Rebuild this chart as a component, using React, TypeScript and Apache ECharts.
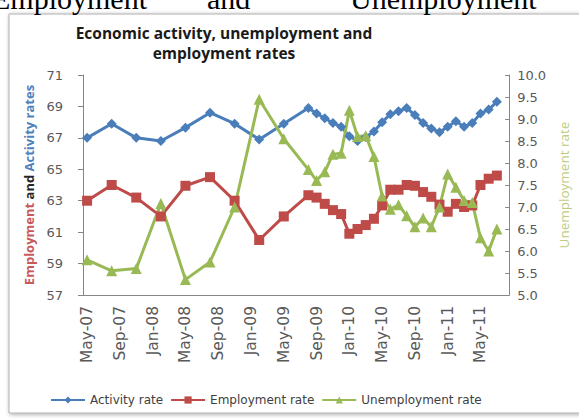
import React, { useEffect, useRef } from "react";
import * as echarts from "echarts";

const months = [
  "May-07", "Jun-07", "Jul-07", "Aug-07", "Sep-07", "Oct-07", "Nov-07", "Dec-07",
  "Jan-08", "Feb-08", "Mar-08", "Apr-08", "May-08", "Jun-08", "Jul-08", "Aug-08",
  "Sep-08", "Oct-08", "Nov-08", "Dec-08", "Jan-09", "Feb-09", "Mar-09", "Apr-09",
  "May-09", "Jun-09", "Jul-09", "Aug-09", "Sep-09", "Oct-09", "Nov-09", "Dec-09",
  "Jan-10", "Feb-10", "Mar-10", "Apr-10", "May-10", "Jun-10", "Jul-10", "Aug-10",
  "Sep-10", "Oct-10", "Nov-10", "Dec-10", "Jan-11", "Feb-11", "Mar-11", "Apr-11",
  "May-11", "Jun-11", "Jul-11", "Aug-11",
];

const n = null;

const activityRate = [
  67.0, n, n, 67.9, n, n, 67.0, n, n, 66.8, n, n, 67.65, n, n, 68.6, n, n, 67.9, n, n,
  66.9, n, n, 67.9, n, n, 68.9, 68.55, 68.25, 67.95, 67.7, 67.1, 66.8, 67.05, 67.4,
  68.0, 68.5, 68.7, 68.9, 68.45, 67.95, 67.6, 67.35, 67.7, 68.05, 67.7, 67.95, 68.55,
  68.8, 69.3, n,
];

const employmentRate = [
  63.0, n, n, 64.0, n, n, 63.2, n, n, 62.0, n, n, 63.95, n, n, 64.5, n, n, 63.0, n, n,
  60.5, n, n, 62.0, n, n, 63.35, 63.2, 62.8, 62.4, 62.15, 60.9, 61.2, 61.45, 61.85,
  62.7, 63.7, 63.7, 64.0, 63.95, 63.55, 63.25, 62.75, 62.3, 62.8, 62.6, 62.7, 64.0,
  64.4, 64.6, n,
];

const unemploymentRate = [
  5.8, n, n, 5.55, n, n, 5.6, n, n, 7.08, n, n, 5.35, n, n, 5.75, n, n, 7.0, n, n,
  9.45, n, n, 8.55, n, n, 7.85, 7.6, 7.8, 8.2, 8.22, 9.2, 8.6, 8.62, 8.15,
  7.25, 6.95, 7.05, 6.8, 6.55, 6.75, 6.55, 7.0, 7.75, 7.45, 7.15, 7.1, 6.3,
  6.0, 6.5, n,
];

const leftTicks = { min: 57, max: 71, interval: 2 };
const rightTicks = { min: 5, max: 10, interval: 0.5 };

const BLUE = "#4a7ebb";
const RED = "#be4b48";
const GREEN = "#98b954";
const AXIS = "#868686";
const LABEL = "#595959";
const SANS = "DejaVu Sans";

export default function App() {
  const ref = useRef<HTMLDivElement>(null);

  useEffect(() => {
    if (!ref.current) return;
    const chart = echarts.init(ref.current, undefined, { renderer: "svg" });
    const serif = { fontFamily: "Liberation Serif", fontSize: 30, fill: "#000", verticalAlign: "bottom" };
    chart.setOption({
      animation: false,
      backgroundColor: "#ffffff",
      graphic: [
        { type: "text", x: -8, y: 13, z: 1, style: { ...serif, text: "Employment" } },
        { type: "text", x: 207, y: 13, z: 1, style: { ...serif, text: "and" } },
        { type: "text", x: 350, y: 13, z: 1, style: { ...serif, text: "Unemployment" } },
        {
          type: "rect",
          z: 0,
          shape: { x: 9, y: 14, width: 600, height: 399 },
          style: {
            fill: "#ffffff",
            stroke: "#b0b0b0",
            lineWidth: 1,
            shadowBlur: 4,
            shadowColor: "rgba(0,0,0,0.35)",
            shadowOffsetX: 1,
            shadowOffsetY: 1,
          },
        },
        {
          type: "text",
          x: 224,
          y: 23,
          z: 5,
          style: {
            text: "Economic activity, unemployment and\nemployment rates",
            fontFamily: "Open Sans",
            fontWeight: "bold",
            fontSize: 15.5,
            lineHeight: 20,
            fill: "#1a1a1a",
            align: "center",
            verticalAlign: "top",
          },
        },
      ],
      grid: { left: 83, right: 64, top: 75, bottom: 124, containLabel: false },
      legend: {
        left: 45,
        top: 389,
        itemWidth: 34,
        itemHeight: 9,
        itemGap: 7,
        textStyle: { fontFamily: SANS, fontSize: 12, color: "#404040" },
        data: ["Activity rate", "Employment rate", "Unemployment rate"],
      },
      xAxis: {
        type: "category",
        data: months,
        boundaryGap: true,
        axisLine: { lineStyle: { color: AXIS } },
        axisTick: { interval: 3, length: 5, lineStyle: { color: AXIS } },
        axisLabel: {
          interval: 3,
          rotate: 90,
          margin: 11,
          fontFamily: SANS,
          fontSize: 15.5,
          color: LABEL,
        },
        splitLine: { show: false },
      },
      yAxis: [
        {
          type: "value",
          min: leftTicks.min,
          max: leftTicks.max,
          interval: leftTicks.interval,
          position: "left",
          name: "{r|Employment} {k|and} {b|Activity rates}",
          nameLocation: "middle",
          nameRotate: 90,
          nameGap: 47,
          nameTextStyle: {
            fontFamily: "Open Sans",
            fontWeight: "bold",
            fontSize: 13,
            rich: {
              r: { color: "#c9585a", fontFamily: "Open Sans", fontWeight: "bold", fontSize: 13 },
              k: { color: "#262626", fontFamily: "Open Sans", fontWeight: "bold", fontSize: 13 },
              b: { color: "#4f81bd", fontFamily: "Open Sans", fontWeight: "bold", fontSize: 13 },
            },
          },
          axisLine: { show: true, lineStyle: { color: AXIS } },
          axisTick: { show: true, length: 5, lineStyle: { color: AXIS } },
          axisLabel: { margin: 20, fontFamily: SANS, fontSize: 13, color: LABEL },
          splitLine: { show: false },
        },
        {
          type: "value",
          min: rightTicks.min,
          max: rightTicks.max,
          interval: rightTicks.interval,
          position: "right",
          name: "Unemployment rate",
          nameLocation: "middle",
          nameRotate: 90,
          nameGap: 47,
          nameTextStyle: { fontFamily: "Open Sans", fontSize: 13.5, color: "#bfcc80" },
          axisLine: { show: true, lineStyle: { color: AXIS } },
          axisTick: { show: true, inside: true, length: 4, lineStyle: { color: AXIS } },
          axisLabel: {
            margin: 8,
            fontFamily: SANS,
            fontSize: 13,
            color: LABEL,
            formatter: (v: number) => v.toFixed(1),
          },
          splitLine: { show: false },
        },
      ],
      series: [
        {
          name: "Activity rate",
          type: "line",
          yAxisIndex: 0,
          data: activityRate,
          connectNulls: true,
          showAllSymbol: true,
          symbol: "diamond",
          symbolSize: 10,
          lineStyle: { width: 3, color: BLUE },
          itemStyle: { color: BLUE },
        },
        {
          name: "Employment rate",
          type: "line",
          yAxisIndex: 0,
          data: employmentRate,
          connectNulls: true,
          showAllSymbol: true,
          symbol: "rect",
          symbolSize: 10,
          lineStyle: { width: 3, color: RED },
          itemStyle: { color: RED },
        },
        {
          name: "Unemployment rate",
          type: "line",
          yAxisIndex: 1,
          data: unemploymentRate,
          connectNulls: true,
          showAllSymbol: true,
          symbol: "triangle",
          symbolSize: 11,
          lineStyle: { width: 3, color: GREEN },
          itemStyle: { color: GREEN },
        },
      ],
    });
    return () => chart.dispose();
  }, []);

  return (
    <div
      ref={ref}
      style={{ position: "fixed", left: 0, top: 0, width: 579, height: 419 }}
    />
  );
}
